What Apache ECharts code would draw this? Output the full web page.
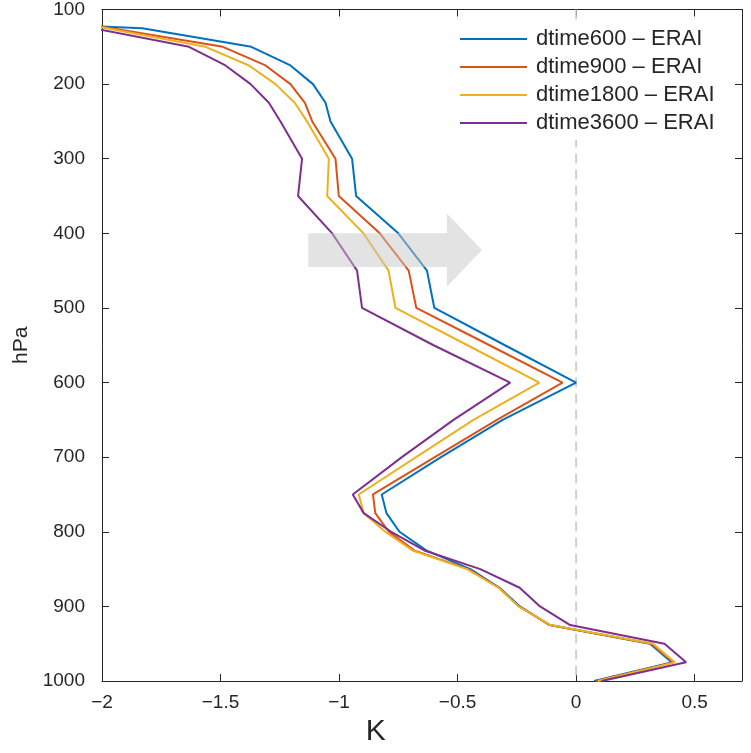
<!DOCTYPE html>
<html>
<head>
<meta charset="utf-8">
<script src="https://cdn.jsdelivr.net/npm/echarts@6.0.0/dist/echarts.min.js"></script>
<style>
  html, body { margin: 0; padding: 0; background: #fff; }
  #chart { width: 751px; height: 753px; }
</style>
</head>
<body>
<div id="chart"></div>
<script>
// Pressure levels (hPa) of the temperature-bias profiles
const pressureLevels = [100, 125, 150, 175, 200, 225, 250, 300, 350, 400, 450, 500, 550,
  600, 650, 700, 750, 775, 800, 825, 850, 875, 900, 925, 950, 975, 1000];

// Temperature difference to ERA-Interim (K) for each model time step
const dtime600 = [-3.7, -1.83, -1.37, -1.205, -1.11, -1.057, -1.036, -0.945, -0.928, -0.75,
  -0.629, -0.598, -0.30, 0.0, -0.31, -0.57, -0.82, -0.80, -0.745, -0.632, -0.446, -0.323,
  -0.237, -0.112, 0.312, 0.403, 0.076];
const dtime900 = [-2.6, -1.96, -1.49, -1.31, -1.205, -1.144, -1.113, -1.015, -1.001, -0.828,
  -0.706, -0.674, -0.365, -0.057, -0.334, -0.596, -0.857, -0.847, -0.79, -0.683, -0.455,
  -0.325, -0.241, -0.11, 0.318, 0.41, 0.085];
const dtime1800 = [-2.4, -1.98, -1.563, -1.38, -1.268, -1.187, -1.135, -1.043, -1.05, -0.897,
  -0.791, -0.762, -0.458, -0.155, -0.433, -0.675, -0.917, -0.896, -0.805, -0.69, -0.46,
  -0.327, -0.243, -0.108, 0.325, 0.416, 0.092];
const dtime3600 = [-2.3, -2.04, -1.633, -1.479, -1.373, -1.296, -1.247, -1.156, -1.173, -1.029,
  -0.924, -0.903, -0.601, -0.278, -0.517, -0.735, -0.942, -0.896, -0.78, -0.64, -0.404,
  -0.238, -0.152, -0.025, 0.373, 0.464, 0.108];

const seriesNames = ['dtime600 – ERAI', 'dtime900 – ERAI', 'dtime1800 – ERAI', 'dtime3600 – ERAI'];
const seriesValues = [dtime600, dtime900, dtime1800, dtime3600];
const seriesColors = ['#0072BD', '#D95319', '#EDB120', '#7E2F8E'];

// Axis ranges
const kRange = { min: -2, max: 0.7, step: 0.5 };
const pRange = { min: 100, max: 1000, step: 100 };
const zeroLine = [[0, pRange.min], [0, pRange.max]];

const FONT = '"Liberation Sans", Arial, Helvetica, sans-serif';
const INK = '#262626';

const chart = echarts.init(document.getElementById('chart'), null, { renderer: 'canvas' });

const fmtK = v => (v < 0 ? '\u2212' + String(-v) : String(v));
const fmtP = v => String(v);

const boxAxis = (extra) => Object.assign({
  type: 'value',
  axisLine: { show: true, onZero: false, lineStyle: { color: INK, width: 1 } },
  axisTick: { show: true, inside: true, length: 7, lineStyle: { color: INK, width: 1 } },
  splitLine: { show: false }
}, extra);

const lineSeries = seriesNames.map((name, i) => ({
  name: name,
  type: 'line',
  xAxisIndex: 0,
  yAxisIndex: 0,
  data: pressureLevels.map((p, j) => [seriesValues[i][j], p]),
  symbol: 'none',
  clip: true,
  lineStyle: { color: seriesColors[i], width: 2 },
  itemStyle: { color: seriesColors[i] },
  emphasis: { disabled: true },
  animation: false,
  z: 3
}));

chart.setOption({
  animation: false,
  backgroundColor: '#fff',
  textStyle: { fontFamily: FONT },
  grid: { left: 102, right: 9, top: 9, bottom: 72, containLabel: false },
  xAxis: [
    boxAxis({
      position: 'bottom', min: kRange.min, max: kRange.max, interval: kRange.step,
      axisLabel: { formatter: fmtK, showMaxLabel: false, fontSize: 19, color: INK, margin: 12, fontFamily: FONT }
    }),
    boxAxis({
      position: 'top', min: kRange.min, max: kRange.max, interval: kRange.step,
      axisLabel: { show: false }
    })
  ],
  yAxis: [
    boxAxis({
      position: 'left', inverse: true, min: pRange.min, max: pRange.max, interval: pRange.step,
      name: 'hPa', nameLocation: 'middle', nameGap: 67, nameRotate: 90,
      nameTextStyle: { fontSize: 21, color: INK, fontFamily: FONT },
      axisLabel: { formatter: fmtP, fontSize: 19, color: INK, margin: 17, fontFamily: FONT }
    }),
    boxAxis({
      position: 'right', inverse: true, min: pRange.min, max: pRange.max, interval: pRange.step,
      axisLabel: { show: false }
    })
  ],
  legend: {
    data: seriesNames,
    orient: 'vertical',
    left: 452,
    top: 22,
    padding: [6, 8, 6, 8],
    backgroundColor: '#fff',
    icon: 'rect',
    itemWidth: 67,
    itemHeight: 2,
    itemGap: 6,
    selectedMode: false,
    textStyle: { fontSize: 22, color: INK, fontFamily: FONT, lineHeight: 22, padding: [0, 0, 0, 4] }
  },
  series: [
    {
      name: 'zero',
      type: 'line',
      data: zeroLine,
      symbol: 'none',
      lineStyle: { color: '#c4c4c4', width: 1.5, type: [10, 6] },
      emphasis: { disabled: true },
      silent: true,
      z: 1
    }
  ].concat(lineSeries)
});

// Arrow annotation, defined in axis units (K, hPa)
const arrowShape = [
  [-1.13, 400], [-0.545, 400], [-0.545, 373.5], [-0.397, 422.5],
  [-0.545, 471.5], [-0.545, 445], [-1.13, 445]
];
const arrowPx = arrowShape.map(pt => chart.convertToPixel({ xAxisIndex: 0, yAxisIndex: 0 }, pt));

// x-axis title position
const kLabelPos = chart.convertToPixel({ xAxisIndex: 0, yAxisIndex: 0 }, [-0.845, pRange.max]);

chart.setOption({
  graphic: [
    {
      type: 'polygon',
      shape: { points: arrowPx },
      style: { fill: 'rgba(199,199,199,0.5)' },
      silent: true,
      z: 50
    },
    {
      type: 'text',
      x: kLabelPos[0],
      y: kLabelPos[1] + 51,
      style: {
        text: 'K', fill: INK, fontSize: 30, fontFamily: FONT,
        textAlign: 'center', textVerticalAlign: 'middle'
      },
      silent: true,
      z: 50
    }
  ]
});
</script>
</body>
</html>
